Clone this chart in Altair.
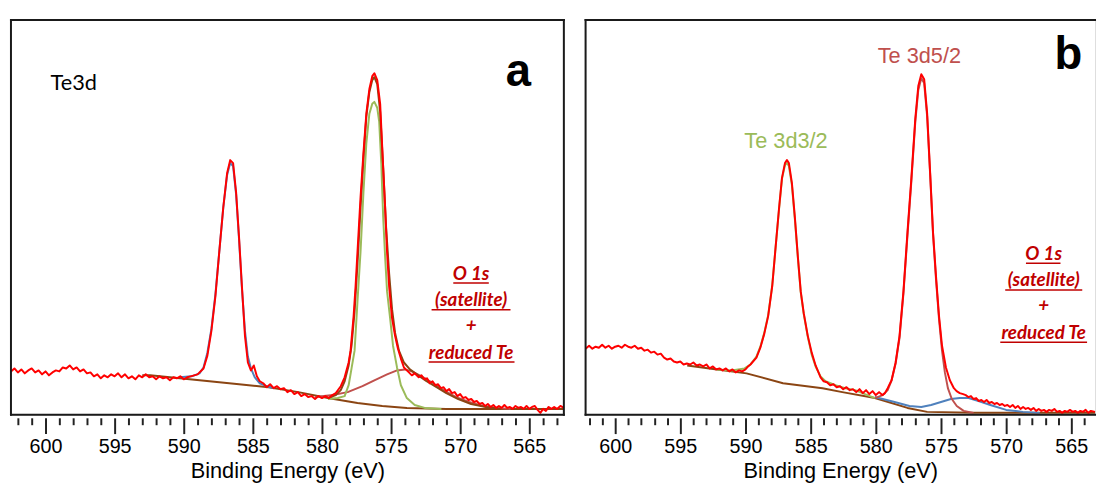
import altair as alt
import pandas as pd

# Each series: list of (binding energy eV, intensity).
# ---------------- Panel a (Te3d) ----------------
A_RED = [
    (602.5, 11.0), (602.25, 11.75), (602.0, 10.75), (601.75, 11.5), (601.5, 10.5), (601.25, 11.25),
    (601.0, 11.75), (600.75, 10.75), (600.5, 11.25), (600.25, 10.25), (600.0, 11.0), (599.75, 10.0),
    (599.5, 10.75), (599.25, 11.25), (599.0, 11.0), (598.75, 12.0), (598.5, 11.75), (598.25, 12.5),
    (598.0, 11.5), (597.75, 12.0), (597.5, 11.0), (597.25, 11.5), (597.0, 10.5), (596.75, 10.75),
    (596.5, 9.75), (596.25, 10.25), (596.0, 9.25), (595.75, 10.0), (595.5, 9.5), (595.25, 10.25),
    (595.0, 9.75), (594.75, 10.5), (594.5, 9.5), (594.25, 10.25), (594.0, 9.25), (593.75, 9.75),
    (593.5, 9.0), (593.25, 10.0), (593.0, 9.5), (592.75, 10.25), (592.5, 9.5), (592.25, 9.75),
    (592.0, 9.0), (591.75, 9.75), (591.5, 9.25), (591.25, 9.5), (591.0, 8.75), (590.75, 9.5),
    (590.5, 9.25), (590.25, 9.75), (590.0, 9.0), (589.75, 9.5), (589.5, 9.75), (589.25, 10.0),
    (589.0, 10.25), (588.57, 11.75), (588.29, 15.0), (588.0, 21.25), (587.71, 30.0), (587.43, 41.25),
    (587.14, 52.5), (586.86, 61.25), (586.64, 64.5), (586.43, 63.75), (586.21, 56.25), (586.0, 45.0),
    (585.79, 32.5), (585.57, 20.0), (585.36, 13.25), (585.14, 11.25), (584.93, 12.5), (584.71, 9.75),
    (584.5, 8.5), (584.25, 8.0), (584.0, 7.0), (583.75, 7.75), (583.5, 6.75), (583.25, 7.25),
    (583.0, 6.5), (582.75, 6.75), (582.5, 5.75), (582.25, 6.25), (582.0, 5.25), (581.75, 5.75),
    (581.5, 4.75), (581.25, 5.25), (581.0, 4.5), (580.75, 4.75), (580.5, 4.0), (580.25, 4.75),
    (580.0, 4.25), (579.75, 4.75), (579.5, 4.25), (579.25, 5.0), (579.0, 5.5), (578.64, 7.25),
    (578.36, 9.5), (578.07, 13.25), (577.93, 16.25), (577.71, 25.0), (577.57, 32.5), (577.43, 41.25),
    (577.21, 55.0), (577.0, 66.25), (576.79, 76.25), (576.57, 82.5), (576.36, 85.75), (576.21, 86.5),
    (576.0, 84.75), (575.79, 78.75), (575.57, 62.5), (575.43, 52.5), (575.29, 41.25), (575.14, 32.5),
    (574.93, 24.5), (574.71, 20.0), (574.5, 16.75), (574.29, 14.25), (574.07, 12.0), (573.71, 10.75),
    (573.5, 10.0), (573.29, 10.5), (573.0, 9.5), (572.8, 10.0), (572.6, 9.0), (572.4, 9.25),
    (572.2, 8.0), (572.0, 8.5), (571.8, 7.5), (571.6, 7.75), (571.4, 6.75), (571.2, 7.0),
    (571.0, 6.0), (570.8, 6.5), (570.6, 5.5), (570.4, 5.75), (570.2, 4.75), (570.0, 5.25),
    (569.8, 4.25), (569.6, 4.5), (569.4, 3.75), (569.2, 4.0), (569.0, 3.25), (568.8, 3.5),
    (568.6, 2.75), (568.4, 3.0), (568.2, 2.25), (568.0, 2.75), (567.8, 2.0), (567.6, 2.5),
    (567.4, 1.75), (567.2, 2.25), (567.0, 1.75), (566.8, 2.5), (566.6, 1.75), (566.4, 2.0),
    (566.2, 1.5), (566.0, 2.25), (565.8, 1.75), (565.6, 2.0), (565.4, 1.5), (565.2, 2.25),
    (565.0, 1.5), (564.8, 2.0), (564.6, 2.25), (564.4, 1.25), (564.2, 0.5), (564.0, 1.5),
    (563.8, 1.0), (563.6, 2.0), (563.4, 1.5), (563.2, 2.0), (563.0, 1.5), (562.75, 2.25), (562.5, 1.75),
]
A_BLUE = [
    (590.29, 9.5), (589.43, 9.75), (588.86, 10.5), (588.57, 12.0), (588.29, 15.75), (588.0, 21.75),
    (587.71, 30.5), (587.43, 41.25), (587.14, 52.5), (586.86, 60.75), (586.64, 63.75), (586.43, 63.0),
    (586.21, 55.75), (586.0, 44.5), (585.79, 32.0), (585.57, 21.25), (585.36, 14.75), (585.14, 11.75),
    (584.86, 9.5), (584.5, 8.0), (584.0, 7.25), (583.43, 6.75),
]
A_GREEN = [
    (579.57, 4.0), (578.86, 4.25), (578.36, 4.75), (578.07, 7.5), (577.86, 11.75), (577.64, 16.25),
    (577.43, 28.75), (577.21, 41.25), (577.0, 56.25), (576.79, 68.75), (576.57, 76.25), (576.36, 78.75),
    (576.21, 79.25), (576.0, 77.75), (575.86, 74.25), (575.71, 63.75), (575.57, 50.0), (575.43, 40.0),
    (575.29, 31.25), (575.07, 24.5), (574.86, 17.5), (574.57, 12.0), (574.29, 7.5), (573.86, 4.25),
    (573.29, 2.5), (572.57, 1.75), (571.36, 1.5),
]
A_BROAD = [
    (580.5, 4.5), (579.21, 5.0), (578.14, 5.75), (577.07, 7.25), (576.21, 8.75), (575.29, 10.25),
    (574.57, 11.25), (574.0, 11.5), (573.5, 11.0), (572.79, 9.75), (572.07, 8.25), (571.21, 6.25),
    (570.29, 4.5), (569.36, 3.25), (568.36, 2.25), (567.43, 1.75), (566.36, 1.5),
]
A_BG = [
    (593.0, 10.0), (592.43, 10.0), (590.29, 9.25), (588.14, 8.5), (586.0, 7.75), (583.86, 7.0),
    (581.71, 5.75), (579.57, 4.25), (577.43, 3.0), (575.64, 2.25), (573.86, 1.75), (571.0, 1.5),
    (567.43, 1.5), (562.5, 1.5),
]
A_ENV = [
    (579.57, 4.25), (579.0, 5.0), (578.64, 6.25), (578.36, 8.5), (578.07, 12.5), (577.86, 17.5),
    (577.64, 26.25), (577.43, 38.25), (577.21, 52.5), (577.0, 65.0), (576.79, 75.5), (576.57, 81.75),
    (576.36, 84.75), (576.21, 85.5), (576.0, 83.75), (575.79, 76.75), (575.57, 62.5), (575.36, 47.5),
    (575.14, 35.75), (574.93, 26.75), (574.71, 20.75), (574.43, 16.25), (574.07, 13.25), (573.64, 11.5),
    (573.14, 10.25), (572.43, 8.5), (571.71, 7.0), (571.0, 5.5), (570.14, 4.0), (569.21, 2.75),
    (568.14, 2.0), (567.07, 1.5),
]

# ---------------- Panel b ----------------
B_RED = [
    (602.27, 16.75), (602.0, 17.5), (601.75, 16.75), (601.5, 17.25), (601.25, 17.0), (601.0, 17.75),
    (600.75, 17.0), (600.5, 17.5), (600.25, 16.75), (600.0, 17.25), (599.75, 17.5), (599.5, 17.0),
    (599.25, 17.75), (599.0, 17.25), (598.75, 17.0), (598.5, 17.5), (598.25, 16.75), (598.0, 17.0),
    (597.75, 16.25), (597.5, 16.5), (597.25, 15.75), (597.0, 16.0), (596.75, 15.25), (596.5, 15.5),
    (596.25, 14.5), (596.0, 14.0), (595.75, 14.25), (595.5, 13.5), (595.25, 13.25), (595.0, 13.5),
    (594.75, 12.75), (594.5, 13.0), (594.25, 12.75), (594.0, 13.25), (593.75, 12.5), (593.5, 12.75),
    (593.25, 12.25), (593.0, 12.75), (592.75, 11.75), (592.5, 12.25), (592.25, 11.5), (592.0, 11.75),
    (591.75, 11.25), (591.5, 11.75), (591.25, 11.0), (591.0, 11.5), (590.75, 10.75), (590.5, 11.25),
    (590.25, 11.0), (590.0, 11.5), (589.8, 12.25), (589.62, 12.75), (589.16, 14.5), (588.86, 17.0),
    (588.56, 20.5), (588.26, 25.0), (587.95, 32.5), (587.72, 41.25), (587.42, 52.5), (587.2, 60.0),
    (586.97, 63.75), (586.82, 64.5), (586.67, 63.75), (586.44, 58.75), (586.21, 50.0), (585.98, 40.0),
    (585.76, 31.25), (585.53, 25.75), (585.22, 20.0), (584.92, 15.75), (584.62, 12.5), (584.24, 9.5),
    (584.0, 8.5), (583.75, 8.25), (583.5, 7.5), (583.25, 7.75), (583.0, 7.0), (582.75, 7.25),
    (582.5, 6.5), (582.25, 7.0), (582.0, 6.25), (581.75, 6.5), (581.5, 5.75), (581.25, 6.5),
    (581.0, 5.5), (580.75, 6.25), (580.5, 5.25), (580.25, 6.0), (580.0, 5.0), (579.75, 5.75),
    (579.5, 5.0), (579.3, 5.5), (579.09, 6.75), (578.79, 8.75), (578.48, 13.25), (578.18, 20.0),
    (577.88, 31.25), (577.57, 46.25), (577.27, 60.0), (576.97, 75.0), (576.74, 83.25), (576.51, 86.25),
    (576.29, 85.0), (576.06, 76.25), (575.83, 61.25), (575.61, 46.25), (575.38, 35.0), (575.15, 25.0),
    (574.92, 17.5), (574.62, 12.0), (574.32, 8.75), (574.01, 6.75), (573.8, 6.0), (573.56, 5.5),
    (573.3, 5.25), (573.1, 5.0), (572.9, 4.5), (572.7, 4.75), (572.5, 4.0), (572.3, 4.25),
    (572.1, 3.5), (571.9, 3.75), (571.7, 3.25), (571.5, 3.75), (571.3, 3.0), (571.1, 3.25),
    (570.9, 2.75), (570.7, 3.0), (570.5, 2.5), (570.3, 2.75), (570.1, 2.25), (569.9, 2.5),
    (569.7, 2.0), (569.5, 2.5), (569.3, 1.75), (569.1, 2.25), (568.9, 1.5), (568.7, 2.0),
    (568.5, 1.5), (568.3, 1.75), (568.1, 1.25), (567.9, 1.75), (567.7, 1.0), (567.5, 1.5),
    (567.3, 1.0), (567.1, 1.25), (566.9, 0.75), (566.7, 1.25), (566.5, 1.0), (566.3, 1.5),
    (566.1, 0.75), (565.9, 1.0), (565.7, 0.5), (565.5, 1.0), (565.3, 0.75), (565.1, 1.25),
    (564.9, 0.75), (564.7, 1.0), (564.5, 0.5), (564.3, 1.0), (564.1, 0.75), (563.9, 1.25),
    (563.7, 0.5), (563.5, 1.0), (563.18, 0.75),
]
B_GREEN = [
    (592.19, 11.5), (591.06, 11.25), (590.07, 11.75), (589.62, 12.75), (589.16, 14.75), (588.86, 17.25),
    (588.56, 20.75), (588.26, 25.25), (587.95, 32.75), (587.72, 41.25), (587.42, 52.25), (587.2, 59.75),
    (586.97, 63.25), (586.82, 63.75), (586.67, 63.0), (586.44, 58.25), (586.21, 49.5), (585.98, 39.75),
    (585.76, 31.0), (585.53, 25.5), (585.22, 19.75), (584.92, 15.25), (584.62, 12.25), (584.24, 9.75),
    (583.86, 8.5), (583.1, 7.5), (582.35, 6.75), (581.59, 6.25), (580.07, 4.25),
]
B_ROSY = [
    (580.07, 4.25), (579.47, 5.0), (579.09, 6.25), (578.79, 8.75), (578.48, 13.0), (578.18, 19.5),
    (577.88, 30.75), (577.57, 45.5), (577.27, 59.25), (576.97, 74.25), (576.74, 82.25), (576.51, 85.25),
    (576.29, 84.0), (576.06, 75.5), (575.83, 60.75), (575.61, 45.75), (575.38, 34.25), (575.15, 24.25),
    (574.92, 16.25), (574.7, 10.75), (574.47, 6.75), (574.17, 4.0), (573.79, 2.25), (573.26, 1.0),
    (572.5, 0.5),
]
B_BLUE = [
    (580.07, 4.5), (578.56, 3.25), (577.42, 2.25), (576.51, 2.0), (575.76, 2.5), (575.0, 3.25),
    (574.24, 4.0), (573.56, 4.25), (572.88, 4.25), (572.12, 3.5), (571.21, 2.5), (570.0, 1.25),
    (568.71, 0.75), (567.42, 0.5),
]
B_BG = [
    (594.47, 12.5), (592.19, 11.5), (589.92, 10.5), (587.12, 8.0), (584.09, 6.75), (582.57, 5.75),
    (580.07, 4.25), (577.57, 1.75), (576.06, 0.75), (572.5, 0.5), (563.18, 0.5),
]

# ---------------- Text ----------------
NOTE_LINES = ["O 1s", "(satellite)", "+", "reduced Te"]
A_NOTE_E = 569.21
A_NOTE_I = [34.25, 27.5, 21.0, 14.25]
A_UL_E1 = [570.5, 572.07, 572.29]
A_UL_E2 = [567.93, 566.36, 566.07]
A_UL_I = [33.4, 26.6, 13.4]
B_NOTE_E = 567.12
B_NOTE_I = [39.25, 32.5, 26.0, 19.25]
B_UL_E1 = [568.48, 570.07, 570.45]
B_UL_E2 = [565.83, 564.16, 563.79]
B_UL_I = [38.4, 31.6, 18.4]

FRAME = "#1a1a1a"
RED = "#FF0000"
BLUE = "#4F81BD"
GREEN = "#9BBB59"
ROSY = "#C0504D"
BROWN = "#8B4513"
NOTE = "#C00000"
H = 400


def make_axis(vals):
    return alt.Axis(
        values=vals, title="Binding Energy (eV)", grid=False, domain=False,
        tickSize={"condition": {"test": "datum.value % 5 === 0", "value": 16}, "value": 7},
        tickWidth=2, tickColor="#222222", offset=3,
        labelExpr="datum.value % 5 === 0 ? datum.label : ''",
        labelFont="Liberation Sans", labelFontSize=20, labelColor="black", labelPadding=3,
        labelFlush=False, labelOverlap=False,
        titleFont="Liberation Sans", titleFontSize=22, titleFontWeight="normal",
        titleColor="black", titlePadding=4,
    )


def panel(width, dom, vals, series, texts, notes_e, notes_i, ul, right_border):
    xs = alt.Scale(domain=dom, reverse=True, nice=False, zero=False)
    ys = alt.Scale(domain=[0, 100], nice=False, zero=False)
    ax = make_axis(vals)
    X = lambda f: alt.X(f, scale=xs, axis=ax)
    Y = alt.Y("I:Q", scale=ys, axis=None)
    layers = []
    for pts, color, w in series:
        df = pd.DataFrame(pts, columns=["E", "I"])
        layers.append(
            alt.Chart(df).mark_line(color=color, strokeWidth=w, strokeJoin="round").encode(
                x=X("E:Q"), y=Y
            )
        )
    for row in texts:
        df = pd.DataFrame({"E": [row["E"]], "I": [row["I"]], "t": [row["t"]]})
        layers.append(
            alt.Chart(df).mark_text(
                align=row.get("align", "center"), baseline="alphabetic", font=row["font"],
                fontSize=row["size"], fontWeight=row.get("weight", "normal"), color=row["color"],
            ).encode(x=X("E:Q"), y=Y, text="t:N")
        )
    ndf = pd.DataFrame({"E": [notes_e] * 4, "I": notes_i, "t": NOTE_LINES})
    layers.append(
        alt.Chart(ndf).mark_text(
            align="center", baseline="alphabetic", font="Lato", fontSize=19,
            fontWeight="bold", fontStyle="italic", color=NOTE,
        ).encode(x=X("E:Q"), y=Y, text="t:N")
    )
    udf = pd.DataFrame({"E1": ul[0], "E2": ul[1], "I": ul[2]})
    layers.append(
        alt.Chart(udf).mark_rule(color=NOTE, strokeWidth=1.5).encode(x=X("E1:Q"), x2="E2:Q", y=Y)
    )
    one = pd.DataFrame({"k": [0]})
    fr = dict(color=FRAME, strokeWidth=2, strokeCap="square")
    layers.append(alt.Chart(one).mark_rule(**fr).encode(x=alt.value(0), x2=alt.value(width), y=alt.value(0)))
    layers.append(alt.Chart(one).mark_rule(**fr).encode(x=alt.value(0), x2=alt.value(width), y=alt.value(H)))
    layers.append(alt.Chart(one).mark_rule(**fr).encode(x=alt.value(0), y=alt.value(0), y2=alt.value(H)))
    if right_border:
        layers.append(alt.Chart(one).mark_rule(**fr).encode(x=alt.value(width), y=alt.value(0), y2=alt.value(H)))
    return alt.layer(*layers).properties(width=width, height=H)


chart_a = panel(
    560, [562.5, 602.5], list(range(563, 603)),
    [
        (A_BG, BROWN, 2),
        (A_BROAD, ROSY, 2),
        (A_GREEN, GREEN, 2),
        (A_BLUE, BLUE, 2),
        (A_ENV, BROWN, 2),
        (A_RED, RED, 2),
    ],
    [
        {"E": 599.64, "I": 82.25, "t": "Te3d", "font": "Lato", "size": 22, "color": "black", "align": "left"},
        {"E": 565.79, "I": 83.25, "t": "a", "font": "Liberation Sans", "size": 46, "weight": "bold", "color": "black"},
    ],
    A_NOTE_E, A_NOTE_I, (A_UL_E1, A_UL_E2, A_UL_I), True,
)

chart_b = panel(
    516, [563.18, 602.27], list(range(564, 603)),
    [
        (B_BG, BROWN, 2),
        (B_BLUE, BLUE, 2),
        (B_ROSY, ROSY, 2),
        (B_GREEN, GREEN, 2),
        (B_RED, RED, 2),
    ],
    [
        {"E": 565.23, "I": 87.5, "t": "b", "font": "Liberation Sans", "size": 46, "weight": "bold", "color": "black"},
        {"E": 576.66, "I": 89.0, "t": "Te 3d5/2", "font": "Liberation Sans", "size": 22, "color": ROSY},
        {"E": 586.89, "I": 67.5, "t": "Te 3d3/2", "font": "Liberation Sans", "size": 22, "color": GREEN},
    ],
    B_NOTE_E, B_NOTE_I, (B_UL_E1, B_UL_E2, B_UL_I), False,
)

chart = (
    alt.hconcat(chart_a, chart_b, spacing=18)
    .properties(padding={"left": 1, "top": 7, "right": 0, "bottom": 0})
    .configure_view(stroke=None)
    .configure(background="white")
)

chart.save("out.html", embed_options={"renderer": "svg", "actions": False})
